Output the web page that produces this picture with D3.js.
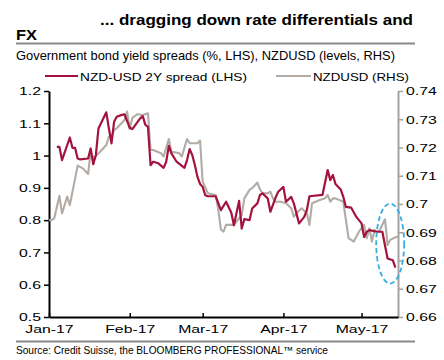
<!DOCTYPE html>
<html>
<head>
<meta charset="utf-8">
<script src="https://cdnjs.cloudflare.com/ajax/libs/d3/7.8.5/d3.min.js"></script>
<style>
body { margin: 0; background: #fff; }
svg { display: block; font-family: "Liberation Sans", Arial, sans-serif; }
</style>
</head>
<body>
<svg width="444" height="360"></svg>
<script>
// NZD-USD 2Y spread (LHS, %)
var spreadDates = ["2017-01-04","2017-01-05","2017-01-06","2017-01-09","2017-01-10","2017-01-11","2017-01-12","2017-01-13",
    "2017-01-16","2017-01-17","2017-01-18","2017-01-19","2017-01-20","2017-01-23","2017-01-24","2017-01-25","2017-01-26",
    "2017-01-27","2017-01-29","2017-01-30","2017-01-31","2017-02-01","2017-02-02","2017-02-05","2017-02-06","2017-02-07",
    "2017-02-08","2017-02-09","2017-02-10","2017-02-12","2017-02-14","2017-02-15","2017-02-16","2017-02-17","2017-02-19",
    "2017-02-22","2017-02-23","2017-02-24","2017-02-25","2017-02-26","2017-02-27","2017-02-28","2017-03-01","2017-03-02",
    "2017-03-03","2017-03-06","2017-03-08","2017-03-10","2017-03-12","2017-03-13","2017-03-15","2017-03-16","2017-03-17",
    "2017-03-19","2017-03-20","2017-03-22","2017-03-23","2017-03-24","2017-03-26","2017-03-27","2017-03-29","2017-03-30",
    "2017-04-01","2017-04-02","2017-04-04","2017-04-05","2017-04-07","2017-04-09","2017-04-10","2017-04-11","2017-04-16",
    "2017-04-18","2017-04-19","2017-04-20","2017-04-21","2017-04-23","2017-04-24","2017-04-25","2017-04-27","2017-04-29",
    "2017-05-01","2017-05-02","2017-05-03","2017-05-04","2017-05-07","2017-05-09","2017-05-10","2017-05-11","2017-05-13",
    "2017-05-14"];
var spreadValues = [1.027,1.027,0.986,1.056,1.024,1.024,0.991,0.988,
    0.991,1.022,0.973,1.002,1.084,1.134,1.084,1.038,1.105,
    1.120,1.126,1.128,1.107,1.086,1.082,1.115,1.122,1.095,
    1.089,0.970,0.981,0.976,0.962,0.981,1.030,1.007,0.981,
    0.962,0.986,1.020,1.002,0.971,0.934,0.912,0.903,0.877,
    0.874,0.874,0.831,0.857,0.823,0.784,0.860,0.774,0.803,
    0.800,0.836,0.852,0.878,0.883,0.867,0.826,0.870,0.888,
    0.903,0.857,0.872,0.852,0.790,0.810,0.831,0.874,0.878,
    0.955,0.924,0.940,0.912,0.895,0.872,0.841,0.839,0.810,
    0.790,0.748,0.764,0.769,0.764,0.764,0.722,0.681,0.676,
    0.653];

// NZDUSD (RHS, levels)
var fxDates = ["2017-01-01","2017-01-02","2017-01-03","2017-01-05","2017-01-06","2017-01-08","2017-01-09","2017-01-12",
    "2017-01-14","2017-01-16","2017-01-17","2017-01-18","2017-01-20","2017-01-23","2017-01-24","2017-01-25","2017-01-26",
    "2017-01-27","2017-01-30","2017-01-31","2017-02-01","2017-02-02","2017-02-04","2017-02-06","2017-02-08","2017-02-09",
    "2017-02-10","2017-02-13","2017-02-14","2017-02-16","2017-02-17","2017-02-20","2017-02-21","2017-02-23","2017-02-24",
    "2017-02-27","2017-02-28","2017-03-01","2017-03-03","2017-03-06","2017-03-07","2017-03-08","2017-03-09","2017-03-10",
    "2017-03-13","2017-03-16","2017-03-17","2017-03-19","2017-03-20","2017-03-22","2017-03-23","2017-03-24","2017-03-26",
    "2017-03-27","2017-03-28","2017-03-29","2017-03-31","2017-04-02","2017-04-04","2017-04-05","2017-04-06","2017-04-08",
    "2017-04-10","2017-04-11","2017-04-12","2017-04-15","2017-04-17","2017-04-18","2017-04-19","2017-04-20","2017-04-21",
    "2017-04-24","2017-04-26","2017-04-28","2017-04-30","2017-05-02","2017-05-03","2017-05-04","2017-05-05","2017-05-06",
    "2017-05-07","2017-05-08","2017-05-10","2017-05-11","2017-05-12","2017-05-14","2017-05-15"];
var fxValues = [0.6943,0.6943,0.6949,0.7029,0.6967,0.7026,0.6996,0.7136,
    0.7126,0.7106,0.7185,0.7162,0.7179,0.7209,0.7238,0.7238,0.7262,
    0.7268,0.7297,0.7327,0.7265,0.7305,0.7318,0.7315,0.7321,0.7191,
    0.7191,0.7180,0.7168,0.7230,0.7185,0.7180,0.7168,0.7230,0.7215,
    0.7215,0.7225,0.7079,0.7038,0.7032,0.6979,0.6910,0.6902,0.6926,
    0.6926,0.6961,0.7020,0.7050,0.7056,0.7076,0.7052,0.7038,0.7038,
    0.7044,0.7020,0.7008,0.7008,0.7003,0.6985,0.6955,0.6967,0.6985,
    0.6967,0.6926,0.7003,0.7014,0.7020,0.7032,0.7008,0.7020,0.7020,
    0.7008,0.6879,0.6867,0.6902,0.6926,0.6879,0.6914,0.6867,0.6908,
    0.6899,0.6908,0.6946,0.6855,0.6873,0.6882,0.6884];

var leftTicks = [0.5, 0.6, 0.7, 0.8, 0.9, 1, 1.1, 1.2];
var rightTicks = [0.66, 0.67, 0.68, 0.69, 0.7, 0.71, 0.72, 0.73, 0.74];
var monthTicks = ["2017-01-01","2017-02-01","2017-03-01","2017-04-01","2017-05-01"];
var xDomain = ["2017-01-01", "2017-05-15"];

var svg = d3.select("svg");
var parse = d3.timeParse("%Y-%m-%d");
var RED = "#a4123f", GREY = "#b2aba6";
var SQUASH = 1.38; // the chart art is stretched sideways

function stretch(sel, k) {
    sel.each(function () {
        var w = this.getComputedTextLength();
        d3.select(this).attr("textLength", w * k).attr("lengthAdjust", "spacingAndGlyphs");
    });
}

var x = d3.scaleTime().domain(xDomain.map(parse)).range([49, 398]);
var yL = d3.scaleLinear().domain([0.5, 1.2]).range([317, 91]);
var yR = d3.scaleLinear().domain([0.66, 0.74]).range([317, 91]);

// heading
svg.append("text").attr("x", 100).attr("y", 25)
    .attr("font-size", 15).attr("font-weight", "bold")
    .attr("textLength", 313).attr("lengthAdjust", "spacingAndGlyphs")
    .text("... dragging down rate differentials and");
svg.append("text").attr("x", 16).attr("y", 40)
    .attr("font-size", 15).attr("font-weight", "bold")
    .attr("textLength", 21).attr("lengthAdjust", "spacingAndGlyphs")
    .text("FX");
svg.append("line").attr("x1", 16).attr("x2", 415).attr("y1", 43.5).attr("y2", 43.5)
    .attr("stroke", "#8a8a8a").attr("stroke-width", 2);
svg.append("text").attr("x", 16).attr("y", 59.5)
    .attr("font-size", 13)
    .attr("textLength", 379).attr("lengthAdjust", "spacingAndGlyphs")
    .text("Government bond yield spreads (%, LHS), NZDUSD (levels, RHS)");

// legend
var legend = [
    {label: "NZD-USD 2Y spread (LHS)", color: RED, x0: 45, x1: 78, w: 167},
    {label: "NZDUSD (RHS)", color: GREY, x0: 276, x1: 311, w: 96}
];
var lg = svg.append("g").selectAll("g").data(legend).enter().append("g");
lg.append("line")
    .attr("x1", function (d) { return d.x0; })
    .attr("x2", function (d) { return d.x1; })
    .attr("y1", 76).attr("y2", 76)
    .attr("stroke", function (d) { return d.color; })
    .attr("stroke-width", 2);
lg.append("text")
    .attr("x", function (d) { return d.x1 + 2; })
    .attr("y", 80.5)
    .attr("font-size", 11.5)
    .attr("textLength", function (d) { return d.w; })
    .attr("lengthAdjust", "spacingAndGlyphs")
    .text(function (d) { return d.label; });

// axes
var gL = svg.append("g").attr("transform", "translate(49,0)")
    .call(d3.axisLeft(yL).tickValues(leftTicks).tickSize(5).tickSizeOuter(0).tickPadding(3)
        .tickFormat(function (d) { return String(+d.toFixed(1)); }));
var gR = svg.append("g").attr("transform", "translate(398,0)")
    .call(d3.axisRight(yR).tickValues(rightTicks).tickSize(5).tickSizeOuter(0).tickPadding(3)
        .tickFormat(function (d) { return String(+d.toFixed(2)); }));
var gB = svg.append("g").attr("transform", "translate(0,317)")
    .call(d3.axisBottom(x).tickValues(monthTicks.map(parse)).tickSize(-4).tickSizeOuter(0).tickPadding(8)
        .tickFormat(d3.timeFormat("%b-%y")));

[gL, gR, gB].forEach(function (g) {
    g.selectAll("text").attr("font-size", 11.8).attr("fill", "#000")
        .style("font-family", "'Liberation Sans', Arial, sans-serif");
    stretch(g.selectAll("text"), 1.34);
});
gL.select(".domain").attr("stroke", "#000").attr("stroke-width", 2);
gL.selectAll(".tick line").attr("stroke", "#000").attr("stroke-width", 1.5);
gB.select(".domain").attr("stroke", "#000").attr("stroke-width", 2);
gB.selectAll(".tick line").attr("stroke", "#000").attr("stroke-width", 1.5);
gR.select(".domain").attr("stroke", "#a3a3a3").attr("stroke-width", 2);
gR.selectAll(".tick line").attr("stroke", "#a3a3a3").attr("stroke-width", 1.5);

// series
var fx = fxDates.map(function (d, i) { return {date: parse(d), value: fxValues[i]}; });
var spread = spreadDates.map(function (d, i) { return {date: parse(d), value: spreadValues[i]}; });

svg.append("path").datum(fx)
    .attr("fill", "none").attr("stroke", GREY).attr("stroke-width", 2.1)
    .attr("stroke-linejoin", "round")
    .attr("d", d3.line()
        .x(function (d) { return x(d.date); })
        .y(function (d) { return yR(d.value); }));

svg.append("path").datum(spread)
    .attr("fill", "none").attr("stroke", RED).attr("stroke-width", 2.2)
    .attr("stroke-linejoin", "round")
    .attr("d", d3.line()
        .x(function (d) { return x(d.date); })
        .y(function (d) { return yL(d.value); }));

// highlight ring round the latest move
svg.append("ellipse")
    .attr("cx", x(parse("2017-05-12")))
    .attr("cy", yR(0.686))
    .attr("rx", 14).attr("ry", 40)
    .attr("fill", "none").attr("stroke", "#35aee2").attr("stroke-width", 1.8)
    .attr("stroke-dasharray", "5,3");

// footer
svg.append("line").attr("x1", 16).attr("x2", 415).attr("y1", 341.5).attr("y2", 341.5)
    .attr("stroke", "#8a8a8a").attr("stroke-width", 2);
svg.append("text").attr("x", 16).attr("y", 354)
    .attr("font-size", 10.2)
    .attr("textLength", 312).attr("lengthAdjust", "spacingAndGlyphs")
    .text("Source: Credit Suisse, the BLOOMBERG PROFESSIONAL\u2122 service");
</script>
</body>
</html>
